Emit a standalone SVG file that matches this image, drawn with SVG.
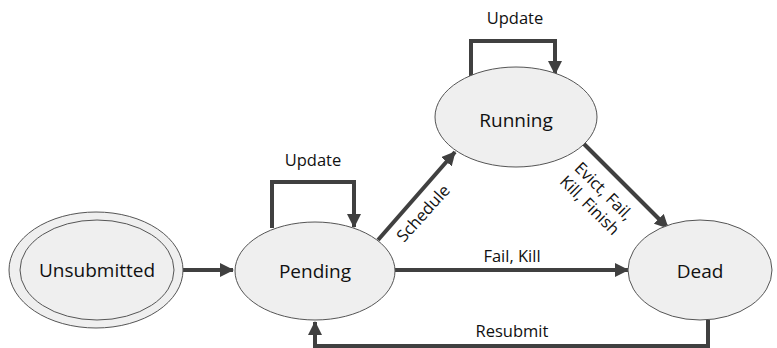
<svg xmlns="http://www.w3.org/2000/svg" width="777" height="348" viewBox="0 0 777 348">
<defs>
<marker id="ah" markerUnits="userSpaceOnUse" markerWidth="14" markerHeight="14" viewBox="0 0 14 14" refX="13" refY="7" orient="auto">
<path d="M0,0 L14,7 L0,14 Z" fill="#404040"/>
</marker>
<style>
.st{fill:#efefef;stroke:#555;stroke-width:1}
.ed{fill:none;stroke:#404040;stroke-width:4;marker-end:url(#ah)}
.nt{font-family:"Open Sans",sans-serif;font-size:19px;fill:#111;text-anchor:middle}
.lb{font-family:"Open Sans",sans-serif;font-size:16.5px;fill:#111;text-anchor:middle}
</style>
</defs>
<rect width="777" height="348" fill="#fff"/>
<g id="connectors">
<path class="ed" d="M183,270 L233,270"/>
<path class="ed" d="M272,228 L272,182 L354,182 L354,227"/>
<path class="ed" d="M378,240 L455,152"/>
<path class="ed" d="M471,77 L471,41 L555,41 L555,74"/>
<path class="ed" d="M583,143 L668,228"/>
<path class="ed" d="M395,270 L628,270"/>
<path class="ed" d="M708,320 L708,346 L315,346 L315,322"/>
<text class="lb" x="313" y="166">Update</text>
<text class="lb" x="515" y="24">Update</text>
<text class="lb" x="512" y="262">Fail, Kill</text>
<text class="lb" x="512" y="337">Resubmit</text>
<text class="lb" transform="translate(423,213) rotate(-48)" y="6">Schedule</text>
<g transform="translate(597,198) rotate(45)">
<text class="lb" x="0" y="-4">Evict, Fail,</text>
<text class="lb" x="0" y="16">Kill, Finish</text>
</g>
</g>
<g id="unsubmitted">
<ellipse class="st" cx="96" cy="270" rx="87" ry="58"/>
<ellipse class="st" cx="97" cy="270" rx="77" ry="50"/>
<text class="nt" x="97" y="277">Unsubmitted</text>
</g>
<g id="pending">
<ellipse class="st" cx="315" cy="271" rx="80" ry="49"/>
<text class="nt" x="315" y="278">Pending</text>
</g>
<g id="running">
<ellipse class="st" cx="516" cy="117" rx="81" ry="50"/>
<text class="nt" x="516" y="127">Running</text>
</g>
<g id="dead">
<ellipse class="st" cx="700" cy="270" rx="72" ry="50"/>
<text class="nt" x="700" y="278">Dead</text>
</g>
</svg>
